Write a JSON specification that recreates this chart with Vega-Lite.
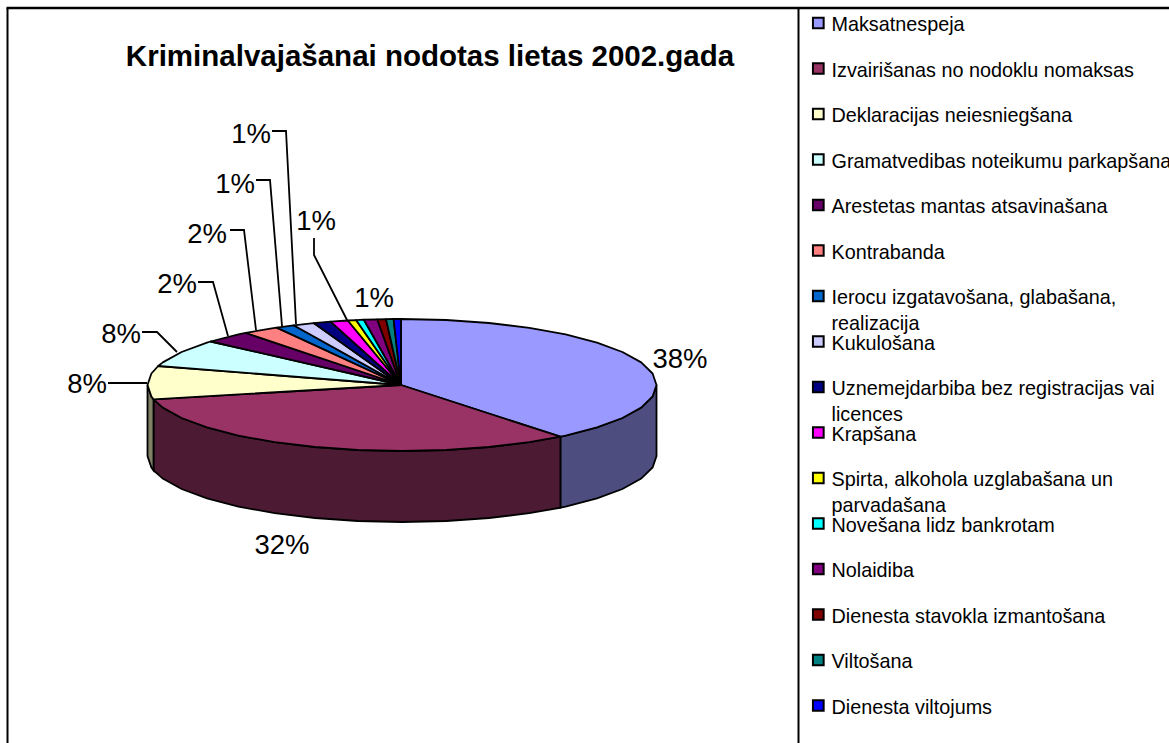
{
"$schema":"https://vega.github.io/schema/vega-lite/v6.json",
"width":1169,"height":743,"autosize":{"type":"none"},"padding":0,"background":"white",
"config":{"view":{"stroke":null},"text":{"font":"Liberation Sans"}},
"datasets":{
"top":[
{"s":"Maksatnespeja","value":38,"i":0,"x":401,"y":385},{"s":"Maksatnespeja","value":38,"i":1,"x":401,"y":319},{"s":"Maksatnespeja","value":38,"i":2,"x":446.2,"y":320},{"s":"Maksatnespeja","value":38,"i":3,"x":489,"y":323},{"s":"Maksatnespeja","value":38,"i":4,"x":529.3,"y":327.8},{"s":"Maksatnespeja","value":38,"i":5,"x":565.6,"y":334.4},{"s":"Maksatnespeja","value":38,"i":6,"x":597,"y":342.6},{"s":"Maksatnespeja","value":38,"i":7,"x":622.4,"y":352},{"s":"Maksatnespeja","value":38,"i":8,"x":641.2,"y":362.4},{"s":"Maksatnespeja","value":38,"i":9,"x":652.6,"y":373.5},{"s":"Maksatnespeja","value":38,"i":10,"x":656.5,"y":385},{"s":"Maksatnespeja","value":38,"i":11,"x":652.6,"y":396.5},{"s":"Maksatnespeja","value":38,"i":12,"x":641.2,"y":407.6},{"s":"Maksatnespeja","value":38,"i":13,"x":622.4,"y":418},{"s":"Maksatnespeja","value":38,"i":14,"x":597,"y":427.4},{"s":"Maksatnespeja","value":38,"i":15,"x":565.6,"y":435.6},{"s":"Maksatnespeja","value":38,"i":16,"x":560.4,"y":436.7},{"s":"Maksatnespeja","value":38,"i":17,"x":401,"y":385},
{"s":"Izvairišanas no nodoklu nomaksas","value":32,"i":0,"x":401,"y":385},{"s":"Izvairišanas no nodoklu nomaksas","value":32,"i":1,"x":560.4,"y":436.7},{"s":"Izvairišanas no nodoklu nomaksas","value":32,"i":2,"x":529.3,"y":442.2},{"s":"Izvairišanas no nodoklu nomaksas","value":32,"i":3,"x":489,"y":447},{"s":"Izvairišanas no nodoklu nomaksas","value":32,"i":4,"x":446.2,"y":450},{"s":"Izvairišanas no nodoklu nomaksas","value":32,"i":5,"x":402,"y":451},{"s":"Izvairišanas no nodoklu nomaksas","value":32,"i":6,"x":357.8,"y":450},{"s":"Izvairišanas no nodoklu nomaksas","value":32,"i":7,"x":315,"y":447},{"s":"Izvairišanas no nodoklu nomaksas","value":32,"i":8,"x":274.8,"y":442.2},{"s":"Izvairišanas no nodoklu nomaksas","value":32,"i":9,"x":238.4,"y":435.6},{"s":"Izvairišanas no nodoklu nomaksas","value":32,"i":10,"x":207,"y":427.4},{"s":"Izvairišanas no nodoklu nomaksas","value":32,"i":11,"x":181.6,"y":418},{"s":"Izvairišanas no nodoklu nomaksas","value":32,"i":12,"x":162.8,"y":407.6},{"s":"Izvairišanas no nodoklu nomaksas","value":32,"i":13,"x":153.5,"y":399.3},{"s":"Izvairišanas no nodoklu nomaksas","value":32,"i":14,"x":401,"y":385},
{"s":"Deklaracijas neiesniegšana","value":8,"i":0,"x":401,"y":385},{"s":"Deklaracijas neiesniegšana","value":8,"i":1,"x":153.5,"y":399.3},{"s":"Deklaracijas neiesniegšana","value":8,"i":2,"x":151.4,"y":396.5},{"s":"Deklaracijas neiesniegšana","value":8,"i":3,"x":147.5,"y":385},{"s":"Deklaracijas neiesniegšana","value":8,"i":4,"x":151.4,"y":373.5},{"s":"Deklaracijas neiesniegšana","value":8,"i":5,"x":158.2,"y":366},{"s":"Deklaracijas neiesniegšana","value":8,"i":6,"x":401,"y":385},
{"s":"Gramatvedibas noteikumu parkapšana","value":8,"i":0,"x":401,"y":385},{"s":"Gramatvedibas noteikumu parkapšana","value":8,"i":1,"x":158.2,"y":366},{"s":"Gramatvedibas noteikumu parkapšana","value":8,"i":2,"x":162.8,"y":362.4},{"s":"Gramatvedibas noteikumu parkapšana","value":8,"i":3,"x":181.6,"y":352},{"s":"Gramatvedibas noteikumu parkapšana","value":8,"i":4,"x":207,"y":342.6},{"s":"Gramatvedibas noteikumu parkapšana","value":8,"i":5,"x":210.6,"y":341.5},{"s":"Gramatvedibas noteikumu parkapšana","value":8,"i":6,"x":401,"y":385},
{"s":"Arestetas mantas atsavinašana","value":2,"i":0,"x":401,"y":385},{"s":"Arestetas mantas atsavinašana","value":2,"i":1,"x":210.6,"y":341.5},{"s":"Arestetas mantas atsavinašana","value":2,"i":2,"x":238.4,"y":334.4},{"s":"Arestetas mantas atsavinašana","value":2,"i":3,"x":245.7,"y":332.9},{"s":"Arestetas mantas atsavinašana","value":2,"i":4,"x":401,"y":385},
{"s":"Kontrabanda","value":2,"i":0,"x":401,"y":385},{"s":"Kontrabanda","value":2,"i":1,"x":245.7,"y":332.9},{"s":"Kontrabanda","value":2,"i":2,"x":274.8,"y":327.8},{"s":"Kontrabanda","value":2,"i":3,"x":276.7,"y":327.6},{"s":"Kontrabanda","value":2,"i":4,"x":401,"y":385},
{"s":"Ierocu izgatavošana, glabašana, realizacija","value":1,"i":0,"x":401,"y":385},{"s":"Ierocu izgatavošana, glabašana, realizacija","value":1,"i":1,"x":276.7,"y":327.6},{"s":"Ierocu izgatavošana, glabašana, realizacija","value":1,"i":2,"x":293.6,"y":325.3},{"s":"Ierocu izgatavošana, glabašana, realizacija","value":1,"i":3,"x":401,"y":385},
{"s":"Kukulošana","value":1,"i":0,"x":401,"y":385},{"s":"Kukulošana","value":1,"i":1,"x":293.6,"y":325.3},{"s":"Kukulošana","value":1,"i":2,"x":313.7,"y":323.1},{"s":"Kukulošana","value":1,"i":3,"x":401,"y":385},
{"s":"Uznemejdarbiba bez registracijas vai licences","value":1,"i":0,"x":401,"y":385},{"s":"Uznemejdarbiba bez registracijas vai licences","value":1,"i":1,"x":313.7,"y":323.1},{"s":"Uznemejdarbiba bez registracijas vai licences","value":1,"i":2,"x":330.6,"y":321.7},{"s":"Uznemejdarbiba bez registracijas vai licences","value":1,"i":3,"x":401,"y":385},
{"s":"Krapšana","value":1,"i":0,"x":401,"y":385},{"s":"Krapšana","value":1,"i":1,"x":330.6,"y":321.7},{"s":"Krapšana","value":1,"i":2,"x":347.8,"y":320.5},{"s":"Krapšana","value":1,"i":3,"x":401,"y":385},
{"s":"Spirta, alkohola uzglabašana un parvadašana","value":1,"i":0,"x":401,"y":385},{"s":"Spirta, alkohola uzglabašana un parvadašana","value":1,"i":1,"x":347.8,"y":320.5},{"s":"Spirta, alkohola uzglabašana un parvadašana","value":1,"i":2,"x":356.1,"y":320.1},{"s":"Spirta, alkohola uzglabašana un parvadašana","value":1,"i":3,"x":401,"y":385},
{"s":"Novešana lidz bankrotam","value":1,"i":0,"x":401,"y":385},{"s":"Novešana lidz bankrotam","value":1,"i":1,"x":356.1,"y":320.1},{"s":"Novešana lidz bankrotam","value":1,"i":2,"x":363.9,"y":319.7},{"s":"Novešana lidz bankrotam","value":1,"i":3,"x":401,"y":385},
{"s":"Nolaidiba","value":1,"i":0,"x":401,"y":385},{"s":"Nolaidiba","value":1,"i":1,"x":363.9,"y":319.7},{"s":"Nolaidiba","value":1,"i":2,"x":377.2,"y":319.3},{"s":"Nolaidiba","value":1,"i":3,"x":401,"y":385},
{"s":"Dienesta stavokla izmantošana","value":1,"i":0,"x":401,"y":385},{"s":"Dienesta stavokla izmantošana","value":1,"i":1,"x":377.2,"y":319.3},{"s":"Dienesta stavokla izmantošana","value":1,"i":2,"x":386,"y":319.1},{"s":"Dienesta stavokla izmantošana","value":1,"i":3,"x":401,"y":385},
{"s":"Viltošana","value":1,"i":0,"x":401,"y":385},{"s":"Viltošana","value":1,"i":1,"x":386,"y":319.1},{"s":"Viltošana","value":1,"i":2,"x":393.6,"y":319},{"s":"Viltošana","value":1,"i":3,"x":401,"y":385},
{"s":"Dienesta viltojums","value":1,"i":0,"x":401,"y":385},{"s":"Dienesta viltojums","value":1,"i":1,"x":393.6,"y":319},{"s":"Dienesta viltojums","value":1,"i":2,"x":401,"y":319},{"s":"Dienesta viltojums","value":1,"i":3,"x":401,"y":385}
],
"wall":[
{"s":"Maksatnespeja","x":656.5,"y":385,"y2":456},{"s":"Maksatnespeja","x":652.6,"y":396.5,"y2":467.5},{"s":"Maksatnespeja","x":641.2,"y":407.6,"y2":478.6},{"s":"Maksatnespeja","x":622.4,"y":418,"y2":489},{"s":"Maksatnespeja","x":597,"y":427.4,"y2":498.4},{"s":"Maksatnespeja","x":565.6,"y":435.6,"y2":506.6},{"s":"Maksatnespeja","x":560.4,"y":436.7,"y2":507.7},
{"s":"Izvairišanas no nodoklu nomaksas","x":560.4,"y":436.7,"y2":507.7},{"s":"Izvairišanas no nodoklu nomaksas","x":529.3,"y":442.2,"y2":513.2},{"s":"Izvairišanas no nodoklu nomaksas","x":489,"y":447,"y2":518},{"s":"Izvairišanas no nodoklu nomaksas","x":446.2,"y":450,"y2":521},{"s":"Izvairišanas no nodoklu nomaksas","x":402,"y":451,"y2":522},{"s":"Izvairišanas no nodoklu nomaksas","x":357.8,"y":450,"y2":521},{"s":"Izvairišanas no nodoklu nomaksas","x":315,"y":447,"y2":518},{"s":"Izvairišanas no nodoklu nomaksas","x":274.8,"y":442.2,"y2":513.2},{"s":"Izvairišanas no nodoklu nomaksas","x":238.4,"y":435.6,"y2":506.6},{"s":"Izvairišanas no nodoklu nomaksas","x":207,"y":427.4,"y2":498.4},{"s":"Izvairišanas no nodoklu nomaksas","x":181.6,"y":418,"y2":489},{"s":"Izvairišanas no nodoklu nomaksas","x":162.8,"y":407.6,"y2":478.6},{"s":"Izvairišanas no nodoklu nomaksas","x":153.5,"y":399.3,"y2":470.3},
{"s":"Deklaracijas neiesniegšana","x":153.5,"y":399.3,"y2":470.3},{"s":"Deklaracijas neiesniegšana","x":151.4,"y":396.5,"y2":467.5},{"s":"Deklaracijas neiesniegšana","x":147.5,"y":385,"y2":456}
],
"leaders":[
{"k":"a","i":0,"x":108,"y":383},{"k":"a","i":1,"x":147,"y":383},
{"k":"b","i":0,"x":142,"y":332},{"k":"b","i":1,"x":157,"y":332},{"k":"b","i":2,"x":177,"y":352},
{"k":"c","i":0,"x":198,"y":282},{"k":"c","i":1,"x":213,"y":282},{"k":"c","i":2,"x":228,"y":336},
{"k":"d","i":0,"x":230,"y":230},{"k":"d","i":1,"x":244,"y":230},{"k":"d","i":2,"x":256,"y":330},
{"k":"e","i":0,"x":256,"y":180},{"k":"e","i":1,"x":270,"y":180},{"k":"e","i":2,"x":282,"y":326},
{"k":"f","i":0,"x":272,"y":131},{"k":"f","i":1,"x":286,"y":131},{"k":"f","i":2,"x":296,"y":324},
{"k":"g","i":0,"x":314,"y":238},{"k":"g","i":1,"x":314,"y":255},{"k":"g","i":2,"x":347,"y":320}
],
"labels":[
{"t":"38%","x":680,"y":360},{"t":"32%","x":282,"y":546},{"t":"8%","x":87,"y":385},{"t":"8%","x":121,"y":335},{"t":"2%","x":177,"y":285},{"t":"2%","x":207,"y":235},{"t":"1%","x":235,"y":185},{"t":"1%","x":251,"y":135},{"t":"1%","x":316,"y":222},{"t":"1%","x":374,"y":299}
],
"keys":[
{"s":"Maksatnespeja","label":"Maksatnespeja","x":818.3,"tx":831.5},
{"s":"Izvairišanas no nodoklu nomaksas","label":"Izvairišanas no nodoklu nomaksas","x":818.3,"tx":831.5},
{"s":"Deklaracijas neiesniegšana","label":"Deklaracijas neiesniegšana","x":818.3,"tx":831.5},
{"s":"Gramatvedibas noteikumu parkapšana","label":"Gramatvedibas noteikumu parkapšana","x":818.3,"tx":831.5},
{"s":"Arestetas mantas atsavinašana","label":"Arestetas mantas atsavinašana","x":818.3,"tx":831.5},
{"s":"Kontrabanda","label":"Kontrabanda","x":818.3,"tx":831.5},
{"s":"Ierocu izgatavošana, glabašana, realizacija","label":"Ierocu izgatavošana, glabašana,\nrealizacija","x":818.3,"tx":831.5},
{"s":"Kukulošana","label":"Kukulošana","x":818.3,"tx":831.5},
{"s":"Uznemejdarbiba bez registracijas vai licences","label":"Uznemejdarbiba bez registracijas vai\nlicences","x":818.3,"tx":831.5},
{"s":"Krapšana","label":"Krapšana","x":818.3,"tx":831.5},
{"s":"Spirta, alkohola uzglabašana un parvadašana","label":"Spirta, alkohola uzglabašana un\nparvadašana","x":818.3,"tx":831.5},
{"s":"Novešana lidz bankrotam","label":"Novešana lidz bankrotam","x":818.3,"tx":831.5},
{"s":"Nolaidiba","label":"Nolaidiba","x":818.3,"tx":831.5},
{"s":"Dienesta stavokla izmantošana","label":"Dienesta stavokla izmantošana","x":818.3,"tx":831.5},
{"s":"Viltošana","label":"Viltošana","x":818.3,"tx":831.5},
{"s":"Dienesta viltojums","label":"Dienesta viltojums","x":818.3,"tx":831.5}
]
},
"data":{"name":"top"},
"encoding":{
"x":{"field":"x","type":"quantitative","scale":{"domain":[0,1169],"nice":false,"zero":false},"axis":null},
"y":{"field":"y","type":"quantitative","scale":{"domain":[743,0],"nice":false,"zero":false},"axis":null}
},
"layer":[
{"data":{"values":[{"x":7.5,"y":8,"y2":743},{"x":798.5,"y":8,"y2":743}]},
 "mark":{"type":"rule","color":"black","strokeWidth":2},
 "encoding":{"y2":{"field":"y2"}}},
{"data":{"values":[{"x":6.5,"x2":1169,"y":8}]},
 "mark":{"type":"rule","color":"black","strokeWidth":2.5},
 "encoding":{"x2":{"field":"x2"}}},
{"data":{"name":"wall"},
 "mark":{"type":"area","stroke":"black","strokeWidth":1.8,"opacity":1},
 "encoding":{"y2":{"field":"y2"},
  "fill":{"field":"s","type":"nominal","legend":null,"scale":{"domain":["Maksatnespeja","Izvairišanas no nodoklu nomaksas","Deklaracijas neiesniegšana"],"range":["#4D4D80","#4D1A33","#808066"]}}}},
{"mark":{"type":"line","filled":true,"stroke":"black","strokeWidth":1.8,"opacity":1,"strokeJoin":"round"},
 "encoding":{"order":{"field":"i","type":"quantitative"},
  "color":{"field":"s","type":"nominal","legend":null,"scale":{"domain":["Maksatnespeja","Izvairišanas no nodoklu nomaksas","Deklaracijas neiesniegšana","Gramatvedibas noteikumu parkapšana","Arestetas mantas atsavinašana","Kontrabanda","Ierocu izgatavošana, glabašana, realizacija","Kukulošana","Uznemejdarbiba bez registracijas vai licences","Krapšana","Spirta, alkohola uzglabašana un parvadašana","Novešana lidz bankrotam","Nolaidiba","Dienesta stavokla izmantošana","Viltošana","Dienesta viltojums"],"range":["#9999FF","#993366","#FFFFCC","#CCFFFF","#660066","#FF8080","#0066CC","#CCCCFF","#000080","#FF00FF","#FFFF00","#00FFFF","#800080","#800000","#008080","#0000FF"]}}}},
{"data":{"name":"leaders"},
 "mark":{"type":"line","color":"black","strokeWidth":1.8},
 "encoding":{"detail":{"field":"k"},"order":{"field":"i","type":"quantitative"}}},
{"data":{"name":"labels"},
 "mark":{"type":"text","fontSize":27.5,"align":"center","baseline":"middle","font":"Liberation Sans","color":"black"},
 "encoding":{"text":{"field":"t"}}},
{"data":{"values":[{"t":"Kriminalvajašanai nodotas lietas 2002.gada","x":430,"y":57}]},
 "mark":{"type":"text","fontSize":29.5,"fontWeight":"bold","align":"center","baseline":"middle","font":"Liberation Sans","color":"black"},
 "encoding":{"text":{"field":"t"}}},
{"data":{"name":"keys"},
 "mark":{"type":"point","shape":"square","filled":true,"size":115,"stroke":"black","strokeWidth":2,"opacity":1},
 "encoding":{
  "y":{"field":"s","type":"ordinal","axis":null,"scale":{"type":"point","padding":0,"domain":["Maksatnespeja","Izvairišanas no nodoklu nomaksas","Deklaracijas neiesniegšana","Gramatvedibas noteikumu parkapšana","Arestetas mantas atsavinašana","Kontrabanda","Ierocu izgatavošana, glabašana, realizacija","Kukulošana","Uznemejdarbiba bez registracijas vai licences","Krapšana","Spirta, alkohola uzglabašana un parvadašana","Novešana lidz bankrotam","Nolaidiba","Dienesta stavokla izmantošana","Viltošana","Dienesta viltojums"],"range":[23,705.5]}},
  "color":{"field":"s","type":"nominal","legend":null}}},
{"data":{"name":"keys"},
 "mark":{"type":"text","fontSize":19.8,"align":"left","baseline":"alphabetic","dy":8,"lineBreak":"\n","lineHeight":26,"font":"Liberation Sans","color":"black"},
 "encoding":{
  "x":{"field":"tx","type":"quantitative","scale":{"domain":[0,1169],"nice":false,"zero":false},"axis":null},
  "y":{"field":"s","type":"ordinal","axis":null,"scale":{"type":"point","padding":0,"domain":["Maksatnespeja","Izvairišanas no nodoklu nomaksas","Deklaracijas neiesniegšana","Gramatvedibas noteikumu parkapšana","Arestetas mantas atsavinašana","Kontrabanda","Ierocu izgatavošana, glabašana, realizacija","Kukulošana","Uznemejdarbiba bez registracijas vai licences","Krapšana","Spirta, alkohola uzglabašana un parvadašana","Novešana lidz bankrotam","Nolaidiba","Dienesta stavokla izmantošana","Viltošana","Dienesta viltojums"],"range":[23,705.5]}},
  "text":{"field":"label"}}}
],
"resolve":{"scale":{"y":"independent"}}
}
